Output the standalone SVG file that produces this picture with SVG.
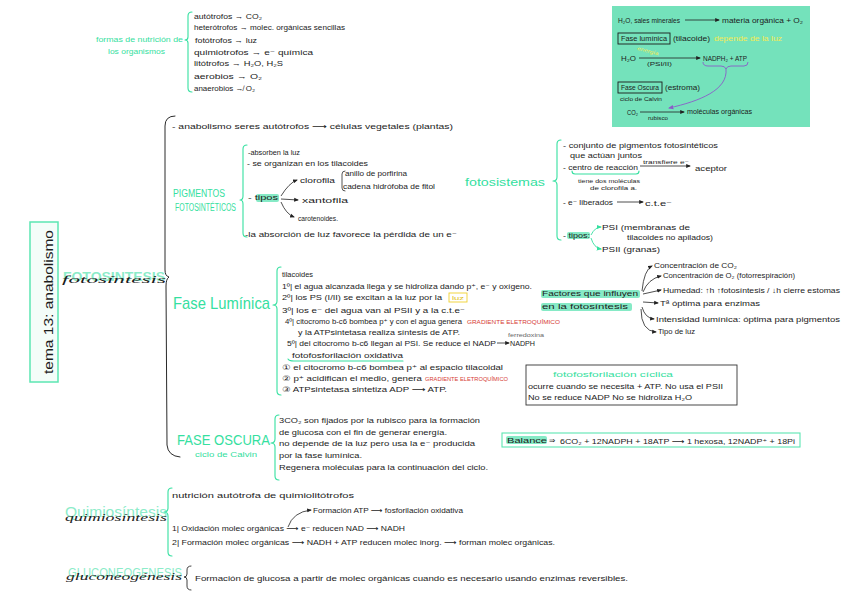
<svg xmlns="http://www.w3.org/2000/svg" width="848" height="600" viewBox="0 0 848 600">
<defs>
<style>
text{font-family:"Liberation Sans","DejaVu Sans",sans-serif}
.t{font-size:7.5px;fill:#1c1c1c}
.s{font-size:6px;fill:#1c1c1c}
.g{fill:#35e0a0}
.lg{fill:#8cecc9}
.red{fill:#d63a34}
.yel{fill:#f3ea55}
.scr{font-family:"Liberation Serif",serif;font-style:italic;fill:#1c1c1c}
.br{fill:none;stroke:#35e0a0;stroke-width:1.1;stroke-linecap:round;stroke-linejoin:round}
.bk{fill:none;stroke:#2a2a2a;stroke-width:1;stroke-linecap:round;stroke-linejoin:round}
.ar{fill:none;stroke:#222;stroke-width:0.8;marker-end:url(#ah)}
.arg{fill:none;stroke:#35e0a0;stroke-width:0.9;marker-end:url(#ahg)}
.hl{fill:#86eac6}
</style>
<marker id="ah" viewBox="0 0 10 10" refX="8" refY="5" markerWidth="6" markerHeight="6" orient="auto"><path d="M0,1 L10,5 L0,9 z" fill="#222"/></marker>
<marker id="ahg" viewBox="0 0 10 10" refX="8" refY="5" markerWidth="6" markerHeight="6" orient="auto"><path d="M0,1 L10,5 L0,9 z" fill="#35e0a0"/></marker>
<marker id="ahp" viewBox="0 0 10 10" refX="8" refY="5" markerWidth="6" markerHeight="6" orient="auto"><path d="M0,1 L10,5 L0,9 z" fill="#8a5cc8"/></marker>
</defs>
<rect x="0" y="0" width="848" height="600" fill="#ffffff"/>

<g id="title">
<rect x="30" y="222" width="28" height="160" fill="#f4fdf9" stroke="#5ce6b2" stroke-width="1.5"/>
<text class="t" style="font-size:13px" transform="translate(53,302) rotate(-90)" text-anchor="middle" textLength="144" lengthAdjust="spacingAndGlyphs">tema 13: anabolismo</text>
</g>

<g id="nutricion">
<text class="t g" x="96" y="42" textLength="87" lengthAdjust="spacingAndGlyphs">formas de nutrición de</text>
<text class="t g" x="108" y="54" textLength="57" lengthAdjust="spacingAndGlyphs">los organismos</text>
<path class="br" d="M192 12 Q188 12 188 16 L188 37 Q188 40 185 40 Q188 40 188 43 L188 88 Q188 92 192 92"/>
<text class="t" x="194" y="19" textLength="68" lengthAdjust="spacingAndGlyphs">autótrofos → CO₂</text>
<text class="t" x="194" y="30" textLength="151" lengthAdjust="spacingAndGlyphs">heterótrofos → molec. orgánicas sencillas</text>
<text class="t" x="195" y="43" textLength="62" lengthAdjust="spacingAndGlyphs">fotótrofos → luz</text>
<text class="t" x="194" y="55" textLength="119" lengthAdjust="spacingAndGlyphs">quimiotrofos → e⁻ química</text>
<text class="t" x="194" y="66" textLength="89" lengthAdjust="spacingAndGlyphs">litótrofos → H₂O, H₂S</text>
<text class="t" x="194" y="79" textLength="68" lengthAdjust="spacingAndGlyphs">aerobios → O₂</text>
<text class="t" x="194" y="91" textLength="61" lengthAdjust="spacingAndGlyphs">anaerobios ↛ O₂</text>
</g>

<g id="resumen">
<rect x="612" y="6" width="198" height="121" fill="#74e2bb"/>
<text class="t" x="618" y="23" textLength="62" lengthAdjust="spacingAndGlyphs">H₂O, sales minerales</text>
<path class="ar" d="M685 20 L719 20"/>
<text class="t" x="722" y="23" textLength="81" lengthAdjust="spacingAndGlyphs">materia orgánica + O₂</text>
<rect x="618" y="33" width="52" height="11" fill="none" stroke="#1c1c1c" stroke-width="0.9"/>
<text class="t" x="621" y="41" textLength="46" lengthAdjust="spacingAndGlyphs">Fase lumínica</text>
<text class="t" x="673" y="41" textLength="37" lengthAdjust="spacingAndGlyphs">(tilacoide)</text>
<text class="t yel" x="714" y="41" textLength="68" lengthAdjust="spacingAndGlyphs">depende de la luz</text>
<text class="s yel" style="font-size:5px" x="637" y="50" transform="rotate(14 637 50)" textLength="22" lengthAdjust="spacingAndGlyphs">energía</text>
<text class="t" x="621" y="61" textLength="15" lengthAdjust="spacingAndGlyphs">H₂O</text>
<path class="ar" d="M639 58 L700 58"/>
<text class="s" x="647" y="66" textLength="25" lengthAdjust="spacingAndGlyphs">(PSI/II)</text>
<text class="t" x="703" y="61" textLength="44" lengthAdjust="spacingAndGlyphs">NADPH₂ + ATP</text>
<path d="M703 62 Q703 66 708 66 L721 66 Q725 66 726 69 Q727 66 731 66 L744 66 Q748 66 748 62" fill="none" stroke="#8a5cc8" stroke-width="0.9"/>
<path d="M726 69 C728 90 700 101 669 108" fill="none" stroke="#8a5cc8" stroke-width="0.9" marker-end="url(#ahp)"/>
<rect x="618" y="82" width="44" height="11" fill="none" stroke="#1c1c1c" stroke-width="0.9"/>
<text class="t" x="621" y="90" textLength="38" lengthAdjust="spacingAndGlyphs">Fase Oscura</text>
<text class="t" x="665" y="90" textLength="35" lengthAdjust="spacingAndGlyphs">(estroma)</text>
<text class="s" x="620" y="101" textLength="42" lengthAdjust="spacingAndGlyphs">ciclo de Calvin</text>
<text class="t" x="627" y="115" textLength="11" lengthAdjust="spacingAndGlyphs">CO₂</text>
<path class="ar" d="M640 112 L684 112"/>
<text class="s" x="648" y="120" textLength="20" lengthAdjust="spacingAndGlyphs">rubisco</text>
<text class="t" x="687" y="114" textLength="65" lengthAdjust="spacingAndGlyphs">moléculas orgánicas</text>
</g>

<g id="fotosintesis">
<text class="lg" style="font-size:13px;font-weight:bold" x="63" y="281" textLength="102" lengthAdjust="spacingAndGlyphs">FOTOSINTESIS</text>
<text class="scr" style="font-size:11px" x="62" y="283" textLength="104" lengthAdjust="spacingAndGlyphs">fotosíntesis</text>
<path class="bk" d="M175 116 Q165 116 165 126 L165 270 Q165 276 169 277 Q166 279 166 286 L167 445 Q168 456 180 457"/>
<text class="t" x="172" y="129" textLength="281" lengthAdjust="spacingAndGlyphs">- anabolismo seres autótrofos ⟶ células vegetales (plantas)</text>
</g>

<g id="pigmentos">
<text class="g" style="font-size:10px" x="173" y="197" textLength="52" lengthAdjust="spacingAndGlyphs">PIGMENTOS</text>
<text class="g" style="font-size:10px" x="175" y="211" textLength="61" lengthAdjust="spacingAndGlyphs">FOTOSINTÉTICOS</text>
<path class="br" d="M247 145 Q243 145 243 149 L243 196 Q243 200 240 200 Q243 200 243 204 L243 233 Q243 237 247 237"/>
<text class="t" x="248" y="155" textLength="52" lengthAdjust="spacingAndGlyphs">-absorben la luz</text>
<text class="t" x="247" y="166" textLength="121" lengthAdjust="spacingAndGlyphs">- se organizan en los tilacoides</text>
<text class="t" x="300" y="183" textLength="35" lengthAdjust="spacingAndGlyphs">clorofila</text>
<path class="bk" style="stroke-width:0.8" d="M345 171 Q342 171 342 174 L342 188 Q342 191 345 191"/>
<text class="t" x="345" y="176" textLength="62" lengthAdjust="spacingAndGlyphs">anillo de porfirina</text>
<text class="t" x="343" y="189" textLength="92" lengthAdjust="spacingAndGlyphs">cadena hidrófoba de fitol</text>
<rect class="hl" x="256" y="194" width="23" height="8" rx="2"/>
<text class="t" x="248" y="200" textLength="30" lengthAdjust="spacingAndGlyphs">- tipos</text>
<text class="t" x="302" y="203" textLength="46" lengthAdjust="spacingAndGlyphs">xantofila</text>
<text class="t" x="298" y="221" textLength="40" lengthAdjust="spacingAndGlyphs">carotenoides.</text>
<text class="t" x="245" y="237" textLength="212" lengthAdjust="spacingAndGlyphs">-la absorción de luz favorece la pérdida de un e⁻</text>
</g>

<g id="fotosistemas">
<text class="g" style="font-size:11px" x="465" y="186" textLength="80" lengthAdjust="spacingAndGlyphs">fotosistemas</text>
<path class="br" d="M561 140 Q557 140 557 144 L557 177 Q557 181 553 181 Q557 181 557 185 L557 236 Q557 240 561 240"/>
<text class="t" x="563" y="148" textLength="155" lengthAdjust="spacingAndGlyphs">- conjunto de pigmentos fotosintéticos</text>
<text class="t" x="570" y="158" textLength="72" lengthAdjust="spacingAndGlyphs">que actúan juntos</text>
<text class="t" x="563" y="170" textLength="75" lengthAdjust="spacingAndGlyphs">- centro de reacción</text>
<path class="br" d="M572 171 Q572 174 575 174 L636 174 Q639 174 639 171"/>
<text class="s" style="font-size:5.5px" x="643" y="164" textLength="46" lengthAdjust="spacingAndGlyphs">transfiere e⁻</text>
<text class="t" x="695" y="171" textLength="32" lengthAdjust="spacingAndGlyphs">aceptor</text>
<text class="s" x="578" y="183" textLength="62" lengthAdjust="spacingAndGlyphs">tiene dos moléculas</text>
<text class="s" x="590" y="190" textLength="47" lengthAdjust="spacingAndGlyphs">de clorofila a.</text>
<text class="t" x="563" y="205" textLength="50" lengthAdjust="spacingAndGlyphs">- e⁻ liberados</text>
<text class="t" x="645" y="206" textLength="27" lengthAdjust="spacingAndGlyphs">c.t.e⁻</text>
<rect class="hl" x="567" y="232" width="23" height="7" rx="2"/>
<text class="t" x="563" y="238" textLength="27" lengthAdjust="spacingAndGlyphs">- tipos:</text>
<text class="t" x="602" y="230" textLength="88" lengthAdjust="spacingAndGlyphs">PSI (membranas de</text>
<text class="t" x="627" y="240" textLength="86" lengthAdjust="spacingAndGlyphs">tilacoides no apilados)</text>
<text class="t" x="602" y="252" textLength="58" lengthAdjust="spacingAndGlyphs">PSII (granas)</text>
</g>

<g id="fase-luminica">
<text class="g" style="font-size:17px" x="173" y="309" textLength="97" lengthAdjust="spacingAndGlyphs">Fase Lumínica</text>
<path class="br" d="M281 267 Q277 267 277 271 L277 301 Q277 305 273 305 Q277 305 277 309 L277 391 Q277 395 281 395"/>
<text class="t" x="282" y="277" textLength="31" lengthAdjust="spacingAndGlyphs">tilacoides</text>
<text class="t" x="282" y="289" textLength="250" lengthAdjust="spacingAndGlyphs">1º| el agua alcanzada llega y se hidroliza dando p⁺, e⁻ y oxígeno.</text>
<text class="t" x="282" y="300" textLength="160" lengthAdjust="spacingAndGlyphs">2º| los PS (I/II) se excitan a la luz por la</text>
<rect x="449" y="293" width="18" height="9" fill="none" stroke="#f0d030" stroke-width="0.9"/>
<text class="s" style="fill:#e0c020" x="452" y="300" textLength="12" lengthAdjust="spacingAndGlyphs">luz</text>
<text class="t" x="282" y="313" textLength="183" lengthAdjust="spacingAndGlyphs">3º| los e⁻ del agua van al PSII y a la c.t.e⁻</text>
<text class="t" x="285" y="324" textLength="177" lengthAdjust="spacingAndGlyphs">4º| citocromo b-c6 bombea p⁺ y con el agua genera</text>
<text class="s red" x="467" y="324" textLength="93" lengthAdjust="spacingAndGlyphs">GRADIENTE ELETROQUÍMICO</text>
<text class="t" x="298" y="335" textLength="162" lengthAdjust="spacingAndGlyphs">y la ATPsintetasa realiza síntesis de ATP.</text>
<text class="t" x="287" y="346" textLength="209" lengthAdjust="spacingAndGlyphs">5º| del citocromo b-c6 llegan al PSI. Se reduce el NADP</text>
<text class="s" style="font-size:5px;fill:#666" x="508" y="337" textLength="36" lengthAdjust="spacingAndGlyphs">ferredoxina</text>
<text class="t" x="510" y="346" textLength="25" lengthAdjust="spacingAndGlyphs">NADPH</text>
<text class="t" x="292" y="358" textLength="111" lengthAdjust="spacingAndGlyphs">fotofosforilación oxidativa</text>
<path class="br" d="M288 359 Q289 361 294 361 L403 361"/>
<text class="t" x="282" y="370" textLength="221" lengthAdjust="spacingAndGlyphs">① el citocromo b-c6 bombea p⁺ al espacio tilacoidal</text>
<text class="t" x="282" y="381" textLength="140" lengthAdjust="spacingAndGlyphs">② p⁺ acidifican el medio, genera</text>
<text class="s red" x="425" y="381" textLength="83" lengthAdjust="spacingAndGlyphs">GRADIENTE ELETROQUÍMICO</text>
<text class="t" x="282" y="392" textLength="165" lengthAdjust="spacingAndGlyphs">③ ATPsintetasa sintetiza ADP ⟶ ATP.</text>
</g>

<g id="factores">
<rect class="hl" x="541" y="290" width="99" height="8" rx="2"/>
<rect class="hl" x="541" y="303" width="91" height="8" rx="2"/>
<text class="t" x="542" y="296" textLength="96" lengthAdjust="spacingAndGlyphs">Factores que influyen</text>
<text class="t" x="542" y="309" textLength="86" lengthAdjust="spacingAndGlyphs">en la fotosíntesis</text>
<text class="t" x="654" y="268" textLength="83" lengthAdjust="spacingAndGlyphs">Concentración de CO₂</text>
<text class="t" x="663" y="278" textLength="132" lengthAdjust="spacingAndGlyphs">Concentración de O₂ (fotorrespiración)</text>
<text class="t" x="663" y="293" textLength="177" lengthAdjust="spacingAndGlyphs">Humedad: ↑h ↑fotosíntesis / ↓h cierre estomas</text>
<text class="t" x="660" y="306" textLength="100" lengthAdjust="spacingAndGlyphs">Tª óptima para enzimas</text>
<text class="t" x="656" y="322" textLength="184" lengthAdjust="spacingAndGlyphs">Intensidad lumínica: óptima para pigmentos</text>
<text class="t" x="658" y="334" textLength="37" lengthAdjust="spacingAndGlyphs">Tipo de luz</text>
</g>

<g id="ciclica">
<rect x="526" y="365" width="211" height="40" fill="none" stroke="#333" stroke-width="0.9"/>
<text class="t g" x="553" y="377" textLength="120" lengthAdjust="spacingAndGlyphs">fotofosforilación cíclica</text>
<text class="t" x="528" y="389" textLength="195" lengthAdjust="spacingAndGlyphs">ocurre cuando se necesita + ATP. No usa el PSII</text>
<text class="t" x="528" y="400" textLength="164" lengthAdjust="spacingAndGlyphs">No se reduce NADP No se hidroliza H₂O</text>
</g>

<g id="fase-oscura">
<text class="g" style="font-size:15px" x="177" y="445" textLength="93" lengthAdjust="spacingAndGlyphs">FASE OSCURA</text>
<text class="t g" x="195" y="457" textLength="62" lengthAdjust="spacingAndGlyphs">ciclo de Calvin</text>
<path class="br" d="M279 415 Q275 415 275 419 L275 439 Q275 443 271 443 Q275 443 275 447 L275 476 Q275 480 279 480"/>
<text class="t" x="279" y="423" textLength="201" lengthAdjust="spacingAndGlyphs">3CO₂ son fijados por la rubisco para la formación</text>
<text class="t" x="279" y="435" textLength="168" lengthAdjust="spacingAndGlyphs">de glucosa con el fin de generar energía.</text>
<text class="t" x="279" y="446" textLength="196" lengthAdjust="spacingAndGlyphs">no depende de la luz pero usa la e⁻ producida</text>
<text class="t" x="279" y="458" textLength="83" lengthAdjust="spacingAndGlyphs">por la fase lumínica.</text>
<text class="t" x="279" y="470" textLength="209" lengthAdjust="spacingAndGlyphs">Regenera moléculas para la continuación del ciclo.</text>
</g>

<g id="balance">
<rect x="502" y="433" width="298" height="14" fill="none" stroke="#5ce6b2" stroke-width="1.1"/>
<rect class="hl" x="506" y="436" width="41" height="8" rx="2"/>
<text class="t" x="507" y="443" textLength="40" lengthAdjust="spacingAndGlyphs">Balance</text>
<text class="t" x="549" y="443">⇒</text>
<text class="t" x="560" y="444" textLength="235" lengthAdjust="spacingAndGlyphs">6CO₂ + 12NADPH + 18ATP ⟶ 1 hexosa, 12NADP⁺ + 18Pi</text>
</g>

<g id="quimiosintesis">
<text class="lg" style="font-size:15px" x="65" y="517" textLength="102" lengthAdjust="spacingAndGlyphs">Quimiosíntesis</text>
<text class="scr" style="font-size:10px" x="65" y="521" textLength="102" lengthAdjust="spacingAndGlyphs">quimiosíntesis</text>
<path class="br" d="M172 488 Q168 488 168 492 L168 508 Q168 512 164 512 Q168 512 168 516 L168 552 Q168 556 172 556"/>
<text class="t" x="172" y="498" textLength="182" lengthAdjust="spacingAndGlyphs">nutrición autótrofa de quimiolitótrofos</text>
<text class="t" x="313" y="513" textLength="150" lengthAdjust="spacingAndGlyphs">Formación ATP ⟶ fosforilación oxidativa</text>
<text class="t" x="172" y="531" textLength="233" lengthAdjust="spacingAndGlyphs">1| Oxidación molec orgánicas ⟶ e⁻ reducen NAD ⟶ NADH</text>
<text class="t" x="172" y="545" textLength="383" lengthAdjust="spacingAndGlyphs">2| Formación molec orgánicas ⟶ NADH + ATP reducen molec inorg. ⟶ forman molec orgánicas.</text>
</g>

<g id="gluconeogenesis">
<text class="lg" style="font-size:13px" x="68" y="577" textLength="114" lengthAdjust="spacingAndGlyphs">GLUCONEOGENESIS</text>
<text class="scr" style="font-size:10px" x="66" y="580" textLength="116" lengthAdjust="spacingAndGlyphs">gluconeogénesis</text>
<path class="bk" style="stroke-width:0.9" d="M191 566 Q187 566 187 570 L187 574 Q187 577 184 577 Q187 577 187 580 L187 586 Q187 590 191 590"/>
<text class="t" x="195" y="581" textLength="433" lengthAdjust="spacingAndGlyphs">Formación de glucosa a partir de molec orgánicas cuando es necesario usando enzimas reversibles.</text>
</g>

<g id="connectors">
<path class="ar" d="M281 196 Q289 183 297 180"/>
<path class="ar" d="M281 199 L298 200"/>
<path class="ar" d="M281 202 Q286 214 294 217"/>
<path class="ar" d="M640 166 L690 166"/>
<path class="ar" d="M617 202 L643 202"/>
<path class="arg" d="M591 235 Q595 227 601 227"/>
<path class="arg" d="M591 238 Q594 248 601 249"/>
<path class="ar" d="M497 343 L509 343"/>
<path class="ar" d="M642 291 Q644 270 652 266"/>
<path class="ar" d="M643 292 Q648 279 661 276"/>
<path class="ar" d="M643 294 L661 290"/>
<path class="ar" d="M643 302 L658 303"/>
<path class="ar" d="M642 307 Q645 318 654 319"/>
<path class="ar" d="M641 309 Q641 331 656 332"/>
<path class="ar" d="M288 527 Q293 512 311 510"/>
</g>
</svg>
